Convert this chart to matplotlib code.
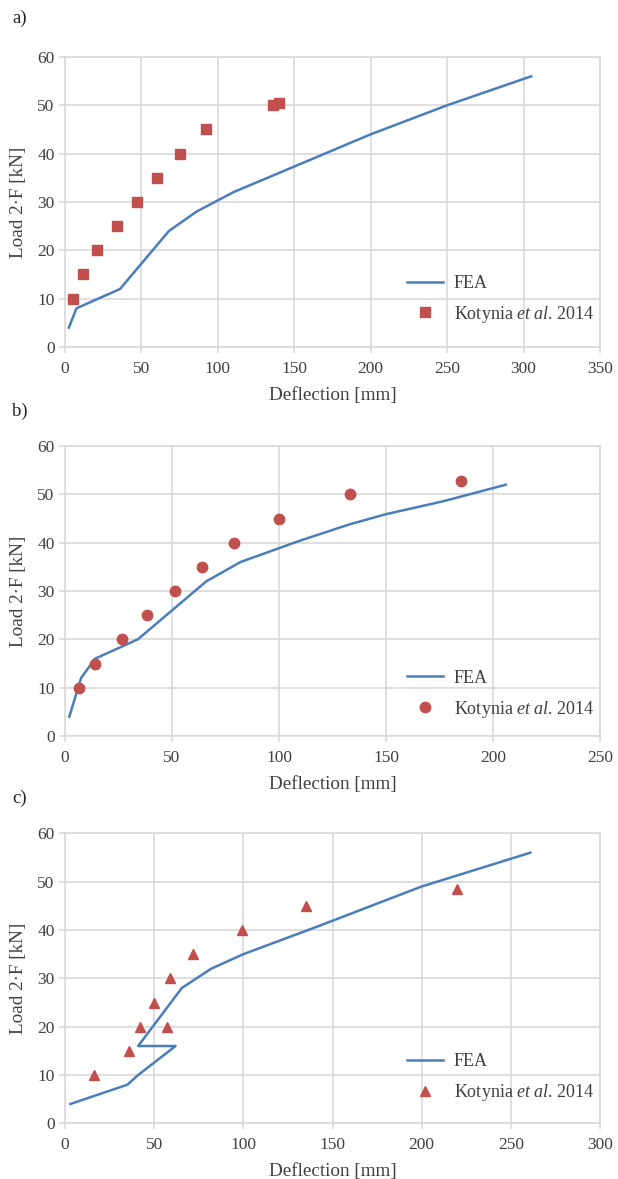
import matplotlib
matplotlib.use("Agg")
import matplotlib.pyplot as plt

plt.rcParams['font.family'] = ['Liberation Serif', 'DejaVu Serif']
plt.rcParams['mathtext.fontset'] = 'custom'
plt.rcParams['mathtext.rm'] = 'Liberation Serif'
plt.rcParams['mathtext.it'] = 'Liberation Serif:italic'

# panel a
fea_a_x = [2.5, 7.5, 36, 68, 86, 110, 140, 170, 200, 250, 305]
fea_a_y = [4, 8, 12, 24, 28, 32, 36, 40, 44, 50, 56]
kot_a_x = [5, 12, 21, 34, 47, 60, 75, 92, 136, 140]
kot_a_y = [10, 15, 20, 25, 30, 35, 40, 45, 50, 50.5]

# panel b
fea_b_x = [2, 7.5, 14, 34, 66, 82, 109, 133, 150, 177, 206]
fea_b_y = [4, 12, 16, 20, 32, 36, 40.3, 43.8, 45.9, 48.6, 52]
kot_b_x = [6.5, 14, 26.5, 38.5, 51.5, 64, 79, 100, 133, 185]
kot_b_y = [10, 15, 20, 25, 30, 35, 40, 45, 50, 52.8]

# panel c
fea_c_x = [3, 35, 41, 62, 41, 65.5, 82, 100, 140, 200, 261]
fea_c_y = [4, 8, 10, 16, 16, 28, 32, 35, 40.5, 49, 56]
kot_c_x = [16, 36, 42, 50, 57, 59, 72, 99, 135, 220]
kot_c_y = [10, 15, 20, 25, 20, 30, 35, 40, 45, 48.5]

xmax = [350, 250, 300]
markers = ['s', 'o', '^']
labels = ['a)', 'b)', 'c)']

blue = '#4a7ebb'
red = '#c0504d'
grid = '#d9d9d9'
txt = '#404040'

fig = plt.figure(figsize=(6.18, 11.79), dpi=100)
bottoms = [0.7057, 0.3757, 0.0472]
label_y = [18, 411, 798]
leg_y = [0.021, 0.001, 0.014]

data = [(fea_a_x, fea_a_y, kot_a_x, kot_a_y),
        (fea_b_x, fea_b_y, kot_b_x, kot_b_y),
        (fea_c_x, fea_c_y, kot_c_x, kot_c_y)]

for i, (fx, fy, kx, ky) in enumerate(data):
    ax = fig.add_axes([0.1052, bottoms[i], 0.8657, 0.246])
    ax.plot(fx, fy, color=blue, lw=1.8, label='FEA', zorder=3)
    ax.plot(kx, ky, ls='none', marker=markers[i], color=red, ms=7.5,
            mec=red, label='Kotynia $\\mathit{et\\ al}$. 2014', zorder=4)
    ax.set_xlim(0, xmax[i])
    ax.set_ylim(0, 60)
    ax.set_xticks(range(0, xmax[i] + 1, 50))
    ax.set_yticks(range(0, 61, 10))
    ax.grid(True, color=grid, lw=1.2)
    ax.set_axisbelow(True)
    for s in ax.spines.values():
        s.set_color(grid)
        s.set_linewidth(1.2)
    ax.tick_params(colors=grid, labelcolor=txt, labelsize=12.5, length=4, width=1.2)
    ax.tick_params(axis='x', pad=6)
    ax.set_xlabel('Deflection [mm]', fontsize=13.8, color=txt, labelpad=7)
    ax.set_ylabel('Load 2·F [kN]', fontsize=13.8, color=txt, labelpad=7)
    leg = ax.legend(loc='lower right', bbox_to_anchor=(1.02, leg_y[i]), frameon=False,
                    fontsize=13, labelspacing=0.65, handlelength=2.0, handletextpad=0.6)
    for t in leg.get_texts():
        t.set_color(txt)
    fig.text(0.02, 1 - label_y[i] / 1179, labels[i], fontsize=13.5, va='center', color='#222222')

fig.savefig('out.png', dpi=100)
